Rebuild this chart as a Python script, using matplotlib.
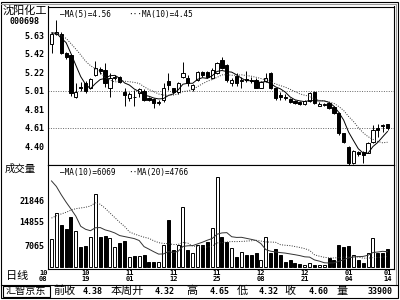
import numpy as np
import matplotlib
matplotlib.use("Agg")
import matplotlib.pyplot as plt
from matplotlib.patches import Rectangle
from matplotlib.lines import Line2D

plt.rcParams['font.family'] = ['Noto Sans CJK SC', 'DejaVu Sans']

# stock info
stock_name = "沈阳化工"
stock_code = "000698"

# daily OHLC, 2010-10-08 .. 2011-01-14
opens = [5.54, 5.65, 5.65, 5.43, 5.41, 4.95, 5.06, 5.10, 5.05, 5.19,
         5.26, 5.25, 5.05, 5.16, 5.17, 5.00, 4.93, 4.95, 4.99, 5.01,
         4.93, 4.92, 4.88, 4.91, 5.12, 5.04, 5.00, 5.17, 5.16, 5.03,
         5.13, 5.22, 5.22, 5.16, 5.21, 5.36, 5.30, 5.10, 5.18, 5.12,
         5.15, 5.13, 5.14, 5.05, 5.12, 5.21, 5.04, 4.97, 4.95, 4.92,
         4.90, 4.89, 4.87, 4.90, 5.00, 4.85, 4.86, 4.88, 4.83, 4.77,
         4.54, 4.39, 4.21, 4.33, 4.33, 4.32, 4.45, 4.60, 4.63, 4.64]
highs = [5.67, 5.80, 5.67, 5.45, 5.42, 5.10, 5.11, 5.12, 5.16, 5.35,
         5.28, 5.32, 5.21, 5.19, 5.18, 5.04, 5.00, 5.02, 5.04, 5.03,
         4.95, 4.93, 4.91, 5.10, 5.21, 5.05, 5.11, 5.33, 5.19, 5.09,
         5.24, 5.23, 5.23, 5.27, 5.34, 5.39, 5.31, 5.16, 5.21, 5.17,
         5.24, 5.17, 5.16, 5.12, 5.21, 5.22, 5.05, 5.00, 4.98, 4.93,
         4.91, 4.90, 4.91, 5.00, 5.01, 4.89, 4.88, 4.89, 4.84, 4.78,
         4.55, 4.40, 4.36, 4.35, 4.35, 4.44, 4.63, 4.65, 4.65, 4.65]
lows = [5.43, 5.63, 5.42, 5.37, 4.96, 4.93, 5.01, 4.99, 5.03, 5.18,
        5.20, 5.06, 4.94, 5.14, 5.10, 4.85, 4.90, 4.85, 4.95, 4.90,
        4.90, 4.82, 4.86, 4.89, 5.02, 4.98, 4.98, 5.16, 5.07, 5.01,
        5.12, 5.17, 5.16, 5.15, 5.20, 5.26, 5.11, 5.07, 5.07, 5.04,
        5.11, 5.10, 5.04, 5.04, 5.11, 5.03, 4.91, 4.91, 4.91, 4.88,
        4.87, 4.86, 4.86, 4.89, 4.87, 4.84, 4.84, 4.81, 4.76, 4.52,
        4.43, 4.19, 4.20, 4.29, 4.21, 4.32, 4.43, 4.50, 4.56, 4.58]
closes = [5.65, 5.67, 5.44, 5.39, 4.99, 5.00, 5.04, 5.01, 5.15, 5.27,
          5.23, 5.10, 5.16, 5.17, 5.11, 4.97, 4.98, 4.94, 5.03, 4.91,
          4.91, 4.88, 4.89, 5.05, 5.08, 5.00, 5.10, 5.21, 5.10, 5.08,
          5.22, 5.19, 5.17, 5.25, 5.32, 5.27, 5.13, 5.14, 5.10, 5.13,
          5.14, 5.12, 5.05, 5.11, 5.16, 5.04, 4.93, 4.94, 4.93, 4.89,
          4.88, 4.87, 4.90, 4.99, 4.88, 4.87, 4.87, 4.82, 4.77, 4.54,
          4.44, 4.21, 4.35, 4.31, 4.30, 4.43, 4.58, 4.58, 4.62, 4.60]
volumes = [9200, 17800, 13800, 12500, 16450, 11850, 6600, 7000, 9900, 24000,
           9900, 10200, 9500, 6600, 7900, 8550, 3300, 3600, 3600, 3950,
           1650, 1650, 1650, 7250, 15500, 5600, 7250, 19700, 5600, 4600,
           7250, 7250, 8200, 12800, 29600, 9900, 8200, 6250, 3300, 4950,
           3950, 3950, 4600, 2300, 9900, 4600, 5900, 3950, 1650, 2300,
           1300, 1000, 650, 1300, 650, 650, 650, 2950, 2300, 7250,
           6600, 6900, 3950, 2300, 1300, 4600, 9550, 4600, 4600, 5900]

# days before the window, only used for the moving averages
prev_closes = [5.62, 5.70, 5.66, 5.58, 5.61, 5.68, 5.72, 5.64, 5.60]
prev_volumes = [2000, 2400, 1800, 2200, 2100, 1900, 2300, 2000, 2100, 20000,
                36000, 41000, 37000, 39000, 35500, 39700, 17000, 14500, 14300]

# axis labels
price_ticks = [4.40, 4.605, 4.81, 5.014, 5.219, 5.424, 5.628]
price_labels = ["4.40", "4.61", "4.81", "5.01", "5.22", "5.42", "5.63"]
grid_levels = [5.014, 4.605]
vol_ticks = [7065, 14855, 21846]
date_idx = [0, 7, 16, 25, 34, 43, 52, 61, 69]
date_month = ["10", "10", "11", "11", "11", "12", "12", "01", "01"]
date_day = ["08", "19", "01", "12", "25", "08", "21", "04", "14"]
price_legend = ["—MA(5)=4.56", "···MA(10)=4.45"]
vol_legend = ["—MA(10)=6069", "··MA(20)=4766"]
bottom_words = ["前收", "4.38", "本周开", "4.32", "高", "4.65", "低", "4.32", "收", "4.60", "量", "33900"]
bottom_x = [65, 93, 127, 165, 192, 220, 242, 269, 290, 319, 342, 380]


def moving_avg(prev, vals, n):
    allv = np.concatenate([prev, vals]).astype(float)
    off = len(prev)
    return np.array([allv[off + i - n + 1:off + i + 1].mean() for i in range(len(vals))])


W, H = 400, 300
fig = plt.figure(figsize=(4, 3), dpi=100)
fig.patch.set_facecolor('white')


def fx(px):
    return px / W


def fy(py):
    return 1 - py / H


mono = 'DejaVu Sans Mono'
ax = fig.add_axes([fx(48), fy(165), fx(393.5) - fx(48), fy(6.5) - fy(165)])
axv = fig.add_axes([fx(48), fy(268.5), fx(393.5) - fx(48), fy(165) - fy(268.5)])

o = np.array(opens)
c = np.array(closes)
x = np.arange(len(o))
up = c >= o
colors = np.where(up, 'white', 'black')

# candles
ax.vlines(x, lows, highs, color='black', lw=0.7, zorder=2)
ax.bar(x, np.maximum(np.abs(c - o), 0.005), 0.66, bottom=np.minimum(o, c),
       color=colors, edgecolor='black', lw=0.7, zorder=3)
ma5 = moving_avg(prev_closes, closes, 5)
ma10 = moving_avg(prev_closes, closes, 10)
ax.plot(x, ma5, color='black', lw=0.7, zorder=4)
ax.plot(x, ma10, color='#333333', lw=0.7, ls=(0, (1, 1.5)), zorder=4)
for g in grid_levels:
    ax.axhline(g, color='#666666', lw=0.7, ls=(0, (1, 1.5)), zorder=1)

xl = (-0.72, 70.23)
ax.set_xlim(*xl)
ax.set_ylim(4.189, 5.952)
ax.set_xticks([])
ax.set_yticks(price_ticks, price_labels)
ax.tick_params(axis='y', length=0, pad=2.5, labelsize=6)
for t in ax.get_yticklabels():
    t.set_fontfamily(mono)
    t.set_fontweight('bold')

# volume
axv.bar(x, volumes, 0.62, color=colors, edgecolor='black', lw=0.7, zorder=3)
vma10 = moving_avg(prev_volumes, volumes, 10)
vma20 = moving_avg(prev_volumes, volumes, 20)
axv.plot(x, vma10, color='#333333', lw=0.7, zorder=4)
axv.plot(x, vma20, color='#333333', lw=0.7, ls=(0, (1, 1.5)), zorder=4)
axv.set_xlim(*xl)
axv.set_ylim(-490, 33560)
axv.set_xticks([])
axv.set_yticks(vol_ticks, [str(v) for v in vol_ticks])
axv.tick_params(axis='y', length=0, pad=2.5, labelsize=6)
for t in axv.get_yticklabels():
    t.set_fontfamily(mono)
    t.set_fontweight('bold')

for a in (ax, axv):
    for s in a.spines.values():
        s.set_linewidth(0.8)

# dates under the volume panel
for k, i in enumerate(date_idx):
    xi = i - 1.7 if k == 0 else i
    axv.text(xi, -0.045, date_month[k], transform=axv.get_xaxis_transform(),
             ha='center', va='center', fontsize=5, family=mono, fontweight='bold')
    axv.text(xi, -0.1, date_day[k], transform=axv.get_xaxis_transform(),
             ha='center', va='center', fontsize=5, family=mono, fontweight='bold')

# side labels
fig.text(fx(25), fy(11), stock_name, ha='center', va='center', fontsize=8)
fig.text(fx(25), fy(21.5), stock_code, ha='center', va='center', fontsize=6,
         family=mono, fontweight='bold')
fig.text(fx(20), fy(169), "成交量", ha='center', va='center', fontsize=7.5)
fig.text(fx(17), fy(276), "日线", ha='center', va='center', fontsize=8)

# legends
fig.text(fx(60), fy(14), price_legend[0], ha='left', va='center', fontsize=5.5, family=[mono, 'DejaVu Sans'])
fig.text(fx(128), fy(14), price_legend[1], ha='left', va='center', fontsize=5.5, family=[mono, 'DejaVu Sans'])
fig.text(fx(60), fy(172), vol_legend[0], ha='left', va='center', fontsize=5.5, family=[mono, 'DejaVu Sans'])
fig.text(fx(128), fy(172), vol_legend[1], ha='left', va='center', fontsize=5.5, family=[mono, 'DejaVu Sans'])

# bottom info row
for word, px in zip(bottom_words, bottom_x):
    if word[0].isdigit():
        fig.text(fx(px), fy(291), word, ha='center', va='center', fontsize=6,
                 family=mono, fontweight='bold')
    else:
        fig.text(fx(px), fy(291), word, ha='center', va='center', fontsize=8)
fig.text(fx(26), fy(291), "汇智京东", ha='center', va='center', fontsize=7.3)
fig.add_artist(Rectangle((fx(2.5), fy(297)), fx(50) - fx(2.5), fy(286) - fy(297),
                         transform=fig.transFigure, fill=False, lw=0.8, ec='black'))

# outer frame with a grey inner rule
fig.add_artist(Rectangle((fx(1), fy(298)), fx(398) - fx(1), fy(2) - fy(298),
                         transform=fig.transFigure, fill=False, lw=0.8, ec='black'))
fig.add_artist(Line2D([fx(1), fx(396)], [fy(4.3), fy(4.3)], transform=fig.transFigure,
                      color='#999999', lw=0.8))
fig.add_artist(Line2D([fx(396), fx(396)], [fy(4.3), fy(285)], transform=fig.transFigure,
                      color='#999999', lw=0.8))
fig.add_artist(Line2D([fx(1), fx(398)], [fy(285), fy(285)], transform=fig.transFigure,
                      color='black', lw=0.8))

fig.savefig("out.png", dpi=100)
